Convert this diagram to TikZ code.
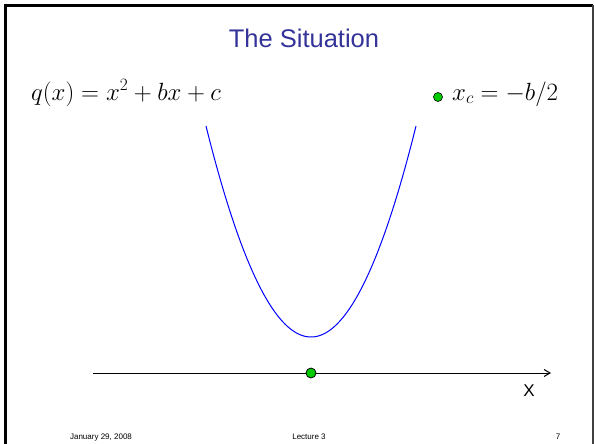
\documentclass[tikz,border=0pt]{standalone}
\usepackage{fontspec}
\setsansfont{Liberation Sans}
\usetikzlibrary{arrows.meta}
\definecolor{titleblue}{RGB}{51,51,153}
\definecolor{curveblue}{RGB}{0,0,255}
\definecolor{dotgreen}{RGB}{0,204,0}

\begin{document}
\begin{tikzpicture}[x=1pt,y=-1pt,>={Straight Barb[length=6pt,width=7pt]},
    dot/.style={circle,draw,fill=dotgreen,inner sep=0pt,minimum size=#1},
    foot/.style={font=\sffamily\fontsize{8}{9}\selectfont,inner sep=0pt,anchor=base}]
    \useasboundingbox (0,0) rectangle (594,444);
    % slide frame
    \draw[line width=3pt] (5.5,444) -- (5.5,5.5) -- (593,5.5);
    \draw[line width=1.5pt,black!75] (593,5.5) -- (593,444);
    % title and formulas
    \node[font=\sffamily\fontsize{25.5}{28}\selectfont,text=titleblue,anchor=base,inner sep=0pt] (title) at (304,48) {The Situation};
    \node[font=\fontsize{26}{28}\selectfont,anchor=base west,inner sep=0pt] (q) at (31,100) {$q(x)=x^2+bx+c$};
    \node[dot=9pt,line width=0.6pt] (xcdot) at (438,97) {};
    \node[font=\fontsize{26}{28}\selectfont,anchor=base west,inner sep=0pt] (xc) at (452,100) {$x_c=-b/2$};
    % the parabola
    \draw[curveblue,line width=1pt] plot[domain=206:416,samples=120] (\x,{337-0.01914*(\x-311)*(\x-311)});
    % axis
    \coordinate (xstart) at (93,373);
    \coordinate (xend) at (551,373);
    \draw[->,line width=1pt] (xstart) -- (xend);
    \node[dot=10pt,line width=0.8pt] (vdot) at (311,373) {};
    \node[font=\sffamily\fontsize{17}{18}\selectfont] (xlab) at (529,391) {X};
    % footer
    \node[foot] (date) at (101,439) {January 29, 2008};
    \node[foot] (lect) at (309,439) {Lecture 3};
    \node[foot] (page) at (558,439) {7};
\end{tikzpicture}
\end{document}
